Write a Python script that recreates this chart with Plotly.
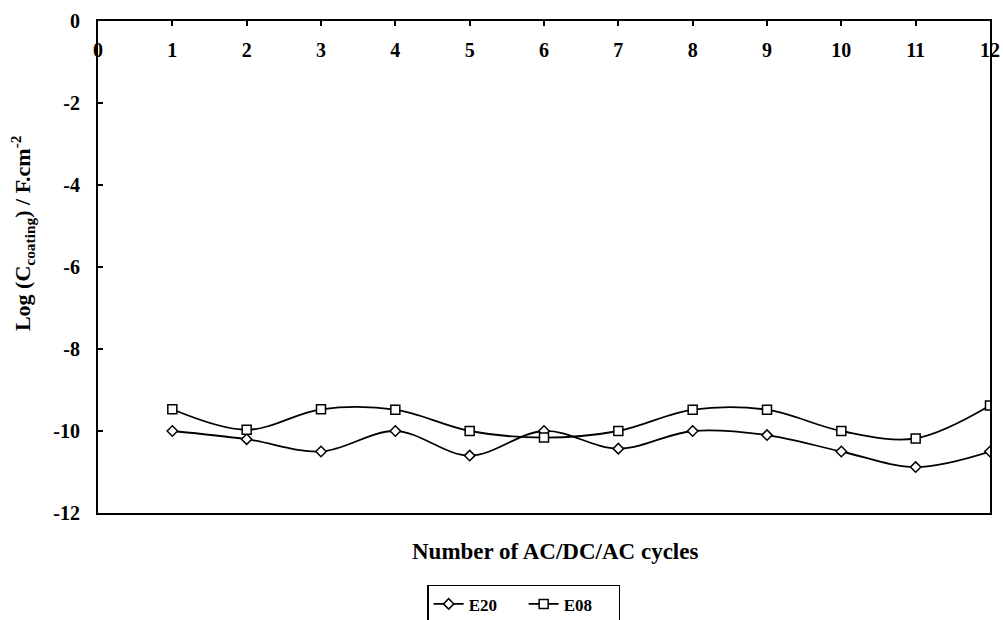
import plotly.graph_objects as go

cycles = [1, 2, 3, 4, 5, 6, 7, 8, 9, 10, 11, 12]
e20 = [-10.0, -10.2, -10.5, -10.0, -10.6, -10.0, -10.43, -10.0, -10.1, -10.5, -10.88, -10.5]
e08 = [-9.47, -9.97, -9.47, -9.48, -10.0, -10.16, -10.0, -9.48, -9.48, -10.0, -10.18, -9.38]
x_ticks = list(range(0, 13))
y_ticks = [0, -2, -4, -6, -8, -10, -12]

FONT = "Times New Roman, Liberation Serif, serif"

fig = go.Figure()
fig.add_trace(go.Scatter(
    x=cycles, y=e20, name="<b>E20</b>", mode="lines+markers",
    line=dict(color="black", width=1.8, shape="spline", smoothing=1.0),
    marker=dict(symbol="diamond", size=8, color="white", line=dict(color="black", width=1.5)),
))
fig.add_trace(go.Scatter(
    x=cycles, y=e08, name="<b>E08</b>", mode="lines+markers",
    line=dict(color="black", width=1.8, shape="spline", smoothing=1.0),
    marker=dict(symbol="square", size=9, color="white", line=dict(color="black", width=1.5)),
))

fig.update_layout(
    width=1003, height=620,
    margin=dict(l=98, r=13, t=21, b=107, autoexpand=False),
    paper_bgcolor="white", plot_bgcolor="white",
    font=dict(family=FONT, color="black", size=20),
    showlegend=True,
    legend=dict(
        orientation="h", x=0.369, y=-0.146, xanchor="left", yanchor="top",
        bordercolor="black", borderwidth=1.5,
        font=dict(family=FONT, size=17, color="black"),
        entrywidth=50, entrywidthmode="pixels", tracegroupgap=0,
    ),
    annotations=[
        dict(
            text="<b>Number of AC/DC/AC cycles</b>", x=0.512, y=-0.079, xref="paper", yref="paper",
            xanchor="center", yanchor="middle", showarrow=False,
            font=dict(family=FONT, size=23, color="black"),
        ),
        dict(
            text="<b>Log (C<sub>coating</sub>) / F.cm<sup>-2</sup></b>", x=-0.0852, y=0.569,
            xref="paper", yref="paper", xanchor="center", yanchor="middle", showarrow=False,
            textangle=-90, font=dict(family=FONT, size=22, color="black"),
        ),
    ],
)

fig.update_xaxes(
    range=[0, 12], tickvals=x_ticks, ticktext=["<b>%d</b>" % v for v in x_ticks],
    side="top", ticks="inside", ticklen=5, tickwidth=2, tickcolor="black",
    ticklabelposition="inside", ticklabeloverflow="allow", ticklabelstandoff=18,
    showline=True, linecolor="black", linewidth=2, mirror=True,
    showgrid=False, zeroline=False, automargin=False,
    tickfont=dict(family=FONT, size=20, color="black"),
)
fig.update_yaxes(
    range=[-12, 0], tickvals=y_ticks, ticktext=["<b>%d</b>" % v for v in y_ticks],
    ticks="inside", ticklen=5, tickwidth=2, tickcolor="black",
    ticklabelstandoff=12,
    showline=True, linecolor="black", linewidth=2, mirror=True,
    showgrid=False, zeroline=False, automargin=False,
    tickfont=dict(family=FONT, size=20, color="black"),
)

fig.write_html(
    "out.html",
    config={"displayModeBar": False},
    post_script="document.body.style.margin='0';document.body.style.overflow='hidden';",
)
